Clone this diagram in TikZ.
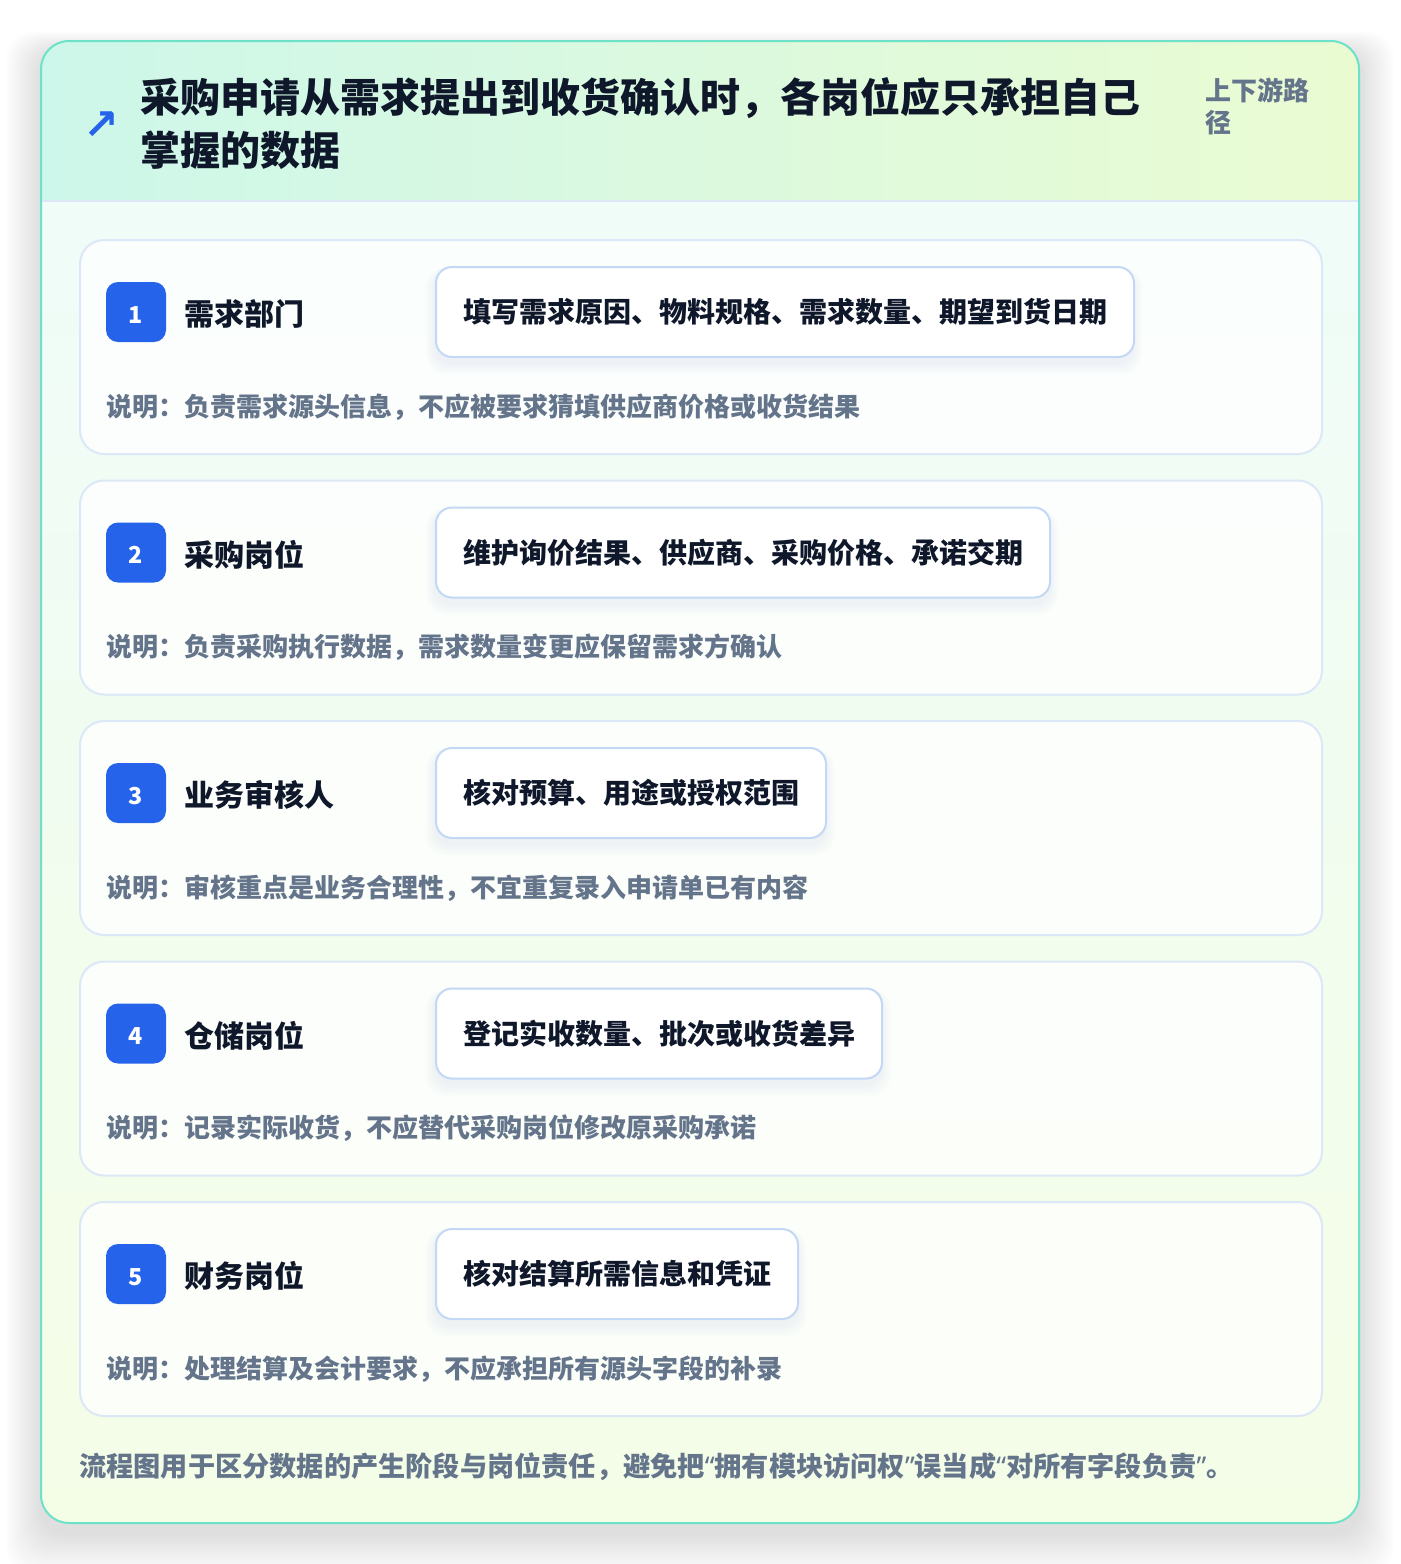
\documentclass[tikz,border=0pt]{standalone}
\usepackage{fontspec}
\setmainfont{Noto Sans CJK SC}
\newfontfamily\symfont{DejaVu Sans}
\newfontfamily\latinfont{Noto Sans}
\usetikzlibrary{arrows.meta}
\definecolor{badgeblue}{HTML}{2563EB}
\definecolor{ink}{HTML}{0F172A}
\definecolor{slate}{HTML}{64748B}
\definecolor{hdrleft}{HTML}{CDF7EA}
\definecolor{hdrright}{HTML}{EAFBD2}
\definecolor{bodytop}{HTML}{EFFCF8}
\definecolor{bodybot}{HTML}{F4FDE6}
\definecolor{outerline}{HTML}{6EE2C9}
\definecolor{cardline}{HTML}{DCE8F7}
\definecolor{boxline}{HTML}{C2D8F4}
\definecolor{hdrline}{HTML}{DCE8F5}
\definecolor{shadowblue}{HTML}{93A8D0}
\tikzset{
  cardbox/.style={draw=cardline, line width=1.5pt, fill=white, fill opacity=0.75, text opacity=1, rounded corners=18pt, minimum width=931.5pt, minimum height=160.5pt, inner sep=0pt},
  badge/.style={fill=badgeblue, rounded corners=9pt, minimum size=45pt, inner sep=0pt, text height=17pt, text depth=0pt, text=white, font=\fontsize{17.5pt}{20pt}\selectfont\bfseries},
  rolelabel/.style={text=ink, inner sep=0pt, font=\fontsize{22.5pt}{27pt}\selectfont\bfseries},
  databox/.style={draw=boxline, line width=1.5pt, fill=white, rounded corners=12pt, minimum height=67.5pt, inner xsep=20.25pt, inner ysep=0pt, align=left, text=ink, font=\fontsize{21pt}{25pt}\selectfont\bfseries},
  desclabel/.style={text=slate, inner sep=0pt, font=\fontsize{19.5pt}{23pt}\selectfont\bfseries},
  footlabel/.style={text=slate, inner sep=0pt, font=\fontsize{20.4pt}{24pt}\selectfont\bfseries},
  titlelabel/.style={text=ink, inner sep=0pt, font=\fontsize{30pt}{39pt}\selectfont\bfseries},
  sidelabel/.style={text=slate, inner sep=0pt, font=\fontsize{19.5pt}{23pt}\selectfont\bfseries},
}
\begin{document}
\begin{tikzpicture}[x=0.75pt,y=-0.75pt]
\useasboundingbox (0,0) rectangle (1400,1564);
\fill[white] (0,0) rectangle (1400,1564);
% outer shadow
\foreach \k in {1,...,16}{
  \fill[black, opacity=0.0065, rounded corners=21pt] ({41-\k*2.2},{41-\k*1.2+10}) rectangle ({1359+\k*2.2},{1523+\k*2.6+10});
}
% outer card fills
\begin{scope}
  \clip[rounded corners=21pt] (41,41) rectangle (1359,1523);
  \shade[left color=hdrleft, right color=hdrright] (41,41) rectangle (1359,201);
  \shade[top color=bodytop, bottom color=bodybot] (41,201) rectangle (1359,1523);
  \draw[hdrline, line width=1.5pt] (41,201) -- (1359,201);
\end{scope}
\draw[outerline, line width=1.5pt, rounded corners=21pt] (41,41) rectangle (1359,1523);
% header
\node[text=badgeblue, inner sep=0pt, font=\symfont\fontsize{32pt}{36pt}\selectfont\bfseries] (arrowicon) at (101,126) {↗};
\node[titlelabel, anchor=west] (title1) at (140,98) {采购申请从需求提出到收货确认时，各岗位应只承担自己};
\node[titlelabel, anchor=west] (title2) at (140,150) {掌握的数据};
\node[sidelabel, anchor=west] (side1) at (1205,90) {上下游路};
\node[sidelabel, anchor=west] (side2) at (1205,123) {径};
% cards
\foreach \i/\role/\data/\w/\desc in {
  1/需求部门/填写需求原因、物料规格、需求数量、期望到货日期/483/说明：负责需求源头信息，不应被要求猜填供应商价格或收货结果,
  2/采购岗位/维护询价结果、供应商、采购价格、承诺交期/420/说明：负责采购执行数据，需求数量变更应保留需求方确认,
  3/业务审核人/核对预算、用途或授权范围/252/说明：审核重点是业务合理性，不宜重复录入申请单已有内容,
  4/仓储岗位/登记实收数量、批次或收货差异/294/说明：记录实际收货，不应替代采购岗位修改原采购承诺,
  5/财务岗位/核对结算所需信息和凭证/231/说明：处理结算及会计要求，不应承担所有源头字段的补录}{
  \pgfmathsetmacro\top{239+240.5*(\i-1)}
  \node[cardbox, anchor=north west] (card\i) at (79,\top) {};
  \node[badge] (badge\i) at (136,{\top+73}) {\i};
  \node[rolelabel, anchor=west] (role\i) at (184,{\top+75}) {\role};
  \foreach \s in {1,...,6}{
    \fill[shadowblue, opacity=0.018, rounded corners=14pt] ({435-\s*1.5},{\top+28+4-\s*0.5}) rectangle ({435+\w/0.75+54+\s*1.5},{\top+118+6+\s*1.8});
  }
  \node[databox, text width=\w pt, anchor=west] (data\i) at (435,{\top+73}) {\data};
  \node[desclabel, anchor=west] (desc\i) at (106,{\top+168}) {\desc};
}
% footer
\node[footlabel, anchor=west] (footer) at (79,1467) {流程图用于区分数据的产生阶段与岗位责任，避免把{\latinfont “}拥有模块访问权{\latinfont ”}误当成{\latinfont “}对所有字段负责{\latinfont ”}。};
\end{tikzpicture}
\end{document}
